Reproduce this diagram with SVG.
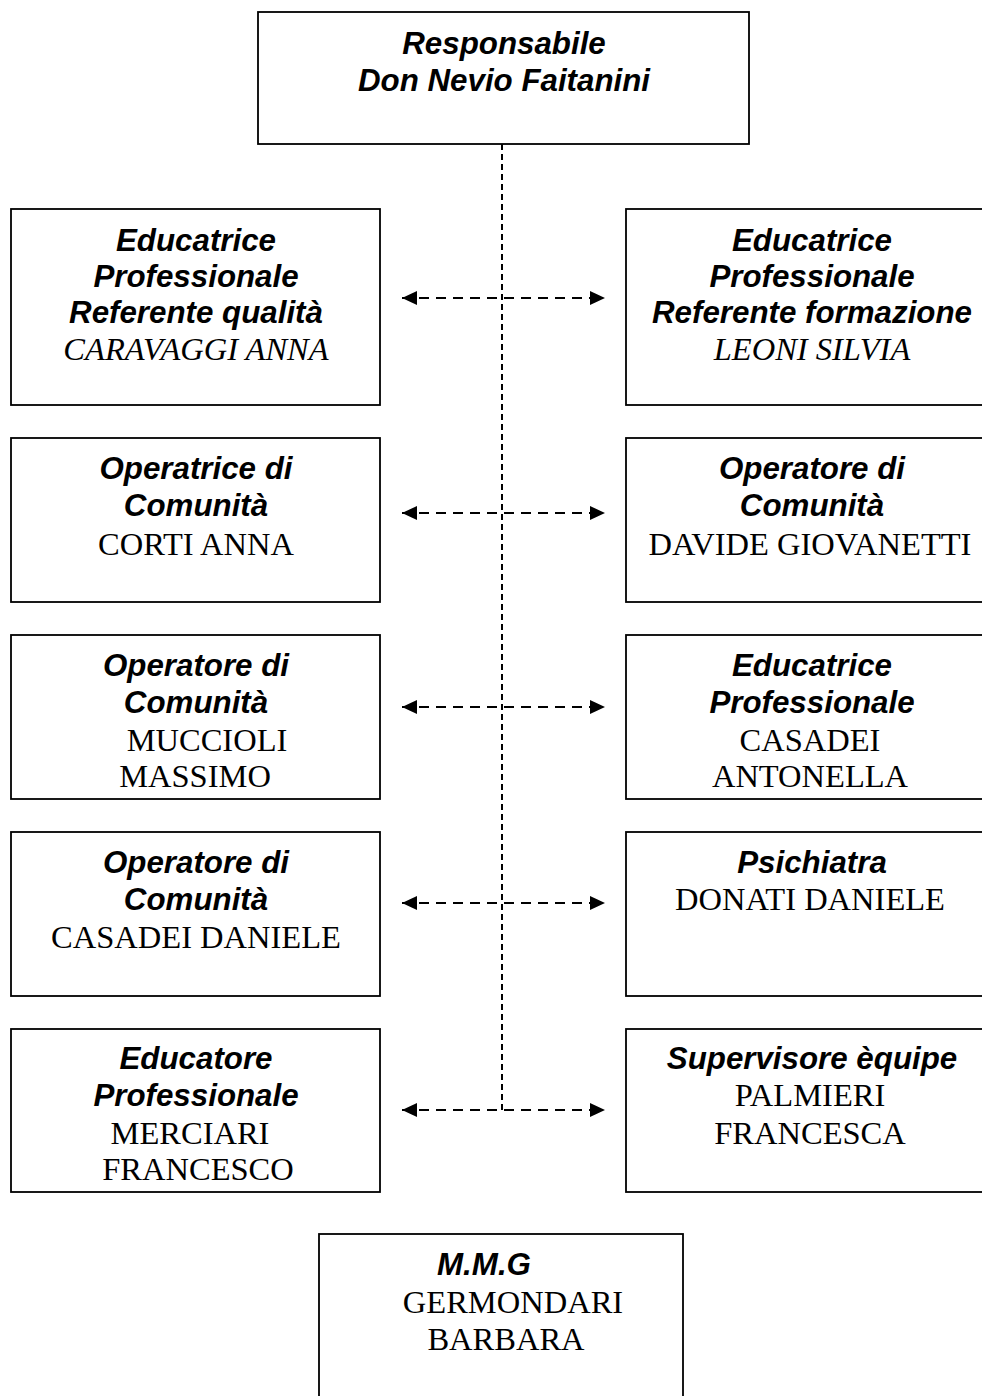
<svg xmlns="http://www.w3.org/2000/svg" width="982" height="1396" viewBox="0 0 982 1396">
<style>
.box{fill:#fff;stroke:#000;stroke-width:1.8}
.h{font-family:"Liberation Sans",Arial,sans-serif;font-weight:bold;font-style:italic;font-size:31.3px;text-anchor:middle;fill:#000}
.n{font-family:"Liberation Serif","Times New Roman",serif;font-size:32.5px;text-anchor:middle;fill:#000}
.ni{font-family:"Liberation Serif","Times New Roman",serif;font-style:italic;font-size:32.5px;text-anchor:middle;fill:#000}
.c{stroke:#000;stroke-width:2;fill:none}
.v{stroke-dasharray:6 4}
.a{stroke-dasharray:10 7;marker-start:url(#ah);marker-end:url(#ah)}
</style>
<defs>
<marker id="ah" markerUnits="userSpaceOnUse" markerWidth="16" markerHeight="14" refX="15" refY="7" orient="auto-start-reverse">
<path d="M0,0 L15,7 L0,14 z" fill="#000"/>
</marker>
</defs>
<g id="connectors">
<line class="c v" x1="502" y1="144" x2="502" y2="1110"/>
<line class="c a" x1="402" y1="298" x2="605" y2="298"/>
<line class="c a" x1="402" y1="513" x2="605" y2="513"/>
<line class="c a" x1="402" y1="707" x2="605" y2="707"/>
<line class="c a" x1="402" y1="903" x2="605" y2="903"/>
<line class="c a" x1="402" y1="1110" x2="605" y2="1110"/>
</g>
<g id="responsabile">
<rect class="box" x="258" y="12" width="491" height="132"/>
<text class="h" x="504" y="54">Responsabile</text>
<text class="h" x="504" y="91">Don Nevio Faitanini</text>
</g>
<g id="caravaggi">
<rect class="box" x="11" y="209" width="369" height="196"/>
<text class="h" x="196" y="251">Educatrice</text>
<text class="h" x="196" y="287">Professionale</text>
<text class="h" x="196" y="323">Referente qualità</text>
<text class="ni" x="196" y="360">CARAVAGGI ANNA</text>
</g>
<g id="leoni">
<rect class="box" x="626" y="209" width="360" height="196"/>
<text class="h" x="812" y="251">Educatrice</text>
<text class="h" x="812" y="287">Professionale</text>
<text class="h" x="812" y="323">Referente formazione</text>
<text class="ni" x="812" y="360">LEONI SILVIA</text>
</g>
<g id="corti">
<rect class="box" x="11" y="438" width="369" height="164"/>
<text class="h" x="196" y="479">Operatrice di</text>
<text class="h" x="196" y="516">Comunità</text>
<text class="n" x="196" y="555">CORTI ANNA</text>
</g>
<g id="giovanetti">
<rect class="box" x="626" y="438" width="360" height="164"/>
<text class="h" x="812" y="479">Operatore di</text>
<text class="h" x="812" y="516">Comunità</text>
<text class="n" x="810" y="555">DAVIDE GIOVANETTI</text>
</g>
<g id="muccioli">
<rect class="box" x="11" y="635" width="369" height="164"/>
<text class="h" x="196" y="676">Operatore di</text>
<text class="h" x="196" y="713">Comunità</text>
<text class="n" x="207" y="751">MUCCIOLI</text>
<text class="n" x="195" y="787">MASSIMO</text>
</g>
<g id="casadei-antonella">
<rect class="box" x="626" y="635" width="360" height="164"/>
<text class="h" x="812" y="676">Educatrice</text>
<text class="h" x="812" y="713">Professionale</text>
<text class="n" x="810" y="751">CASADEI</text>
<text class="n" x="810" y="787">ANTONELLA</text>
</g>
<g id="casadei-daniele">
<rect class="box" x="11" y="832" width="369" height="164"/>
<text class="h" x="196" y="873">Operatore di</text>
<text class="h" x="196" y="910">Comunità</text>
<text class="n" x="196" y="948">CASADEI DANIELE</text>
</g>
<g id="donati">
<rect class="box" x="626" y="832" width="360" height="164"/>
<text class="h" x="812" y="873">Psichiatra</text>
<text class="n" x="810" y="910">DONATI DANIELE</text>
</g>
<g id="merciari">
<rect class="box" x="11" y="1029" width="369" height="163"/>
<text class="h" x="196" y="1069">Educatore</text>
<text class="h" x="196" y="1106">Professionale</text>
<text class="n" x="190" y="1144">MERCIARI</text>
<text class="n" x="198" y="1180">FRANCESCO</text>
</g>
<g id="palmieri">
<rect class="box" x="626" y="1029" width="360" height="163"/>
<text class="h" x="812" y="1069">Supervisore èquipe</text>
<text class="n" x="810" y="1106">PALMIERI</text>
<text class="n" x="810" y="1144">FRANCESCA</text>
</g>
<g id="mmg">
<rect class="box" x="319" y="1234" width="364" height="180"/>
<text class="h" x="484" y="1275">M.M.G</text>
<text class="n" x="513" y="1313">GERMONDARI</text>
<text class="n" x="506" y="1350">BARBARA</text>
</g>
</svg>
